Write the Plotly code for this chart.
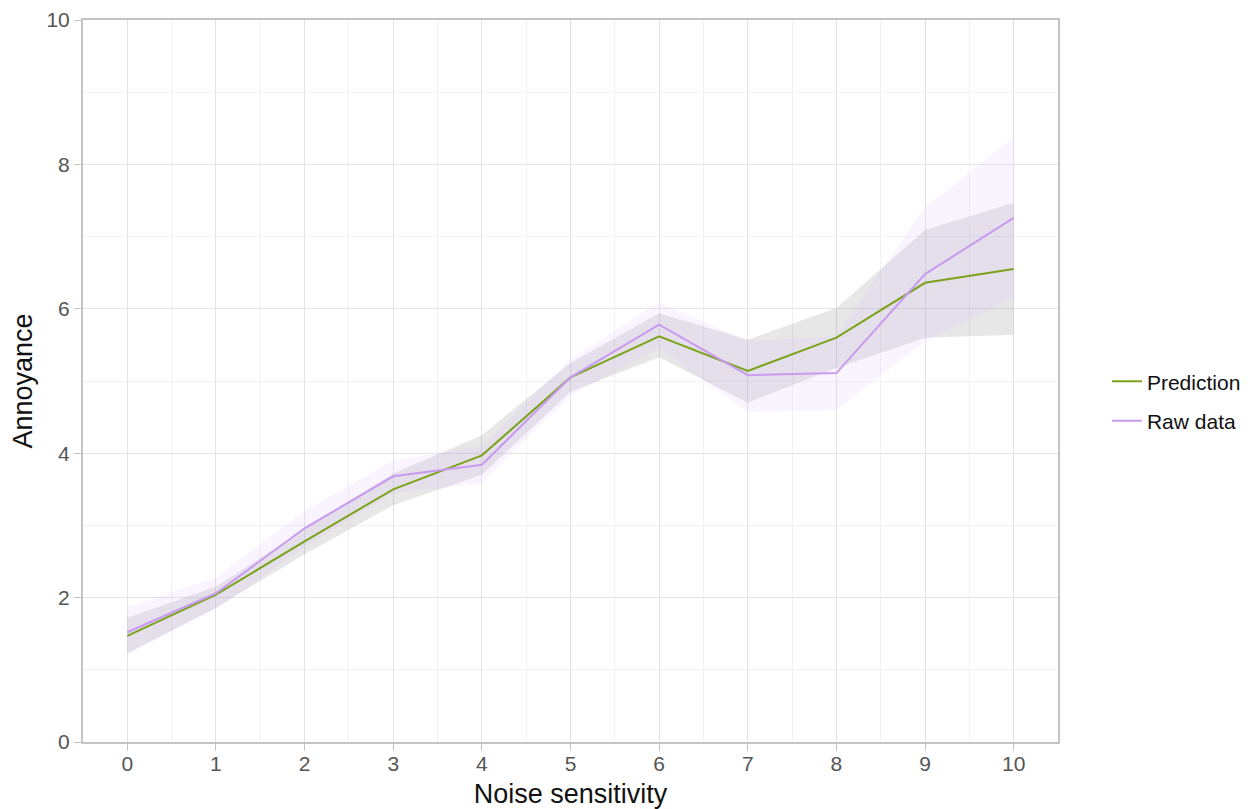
import plotly.graph_objects as go

x_vals = [0, 1, 2, 3, 4, 5, 6, 7, 8, 9, 10]

pred_mean = [1.47, 2.04, 2.78, 3.50, 3.97, 5.05, 5.62, 5.14, 5.60, 6.36, 6.55]
pred_low = [1.23, 1.86, 2.60, 3.28, 3.70, 4.85, 5.33, 4.70, 5.18, 5.60, 5.64]
pred_high = [1.72, 2.15, 2.95, 3.72, 4.25, 5.25, 5.94, 5.57, 6.01, 7.09, 7.47]

raw_mean = [1.52, 2.06, 2.96, 3.68, 3.84, 5.05, 5.78, 5.08, 5.11, 6.48, 7.26]
raw_low = [1.22, 1.84, 2.70, 3.45, 3.58, 4.80, 5.45, 4.57, 4.60, 5.55, 6.15]
raw_high = [1.86, 2.28, 3.20, 3.90, 4.10, 5.30, 6.09, 5.55, 5.62, 7.41, 8.37]

x_ticks = list(range(0, 11))
y_ticks = [0, 2, 4, 6, 8, 10]

GREEN = "#7ba31c"
PURPLE = "#c99af0"
FONT = "Liberation Sans, Arial"

fig = go.Figure()

# Prediction band
fig.add_trace(go.Scatter(x=x_vals, y=pred_high, mode="lines", line=dict(width=0),
                         showlegend=False, hoverinfo="skip"))
fig.add_trace(go.Scatter(x=x_vals, y=pred_low, mode="lines", line=dict(width=0),
                         fill="tonexty", fillcolor="rgba(120,120,120,0.18)",
                         showlegend=False, hoverinfo="skip"))
# Raw band
fig.add_trace(go.Scatter(x=x_vals, y=raw_high, mode="lines", line=dict(width=0),
                         showlegend=False, hoverinfo="skip"))
fig.add_trace(go.Scatter(x=x_vals, y=raw_low, mode="lines", line=dict(width=0),
                         fill="tonexty", fillcolor="rgba(215,180,255,0.15)",
                         showlegend=False, hoverinfo="skip"))

fig.add_trace(go.Scatter(x=x_vals, y=pred_mean, mode="lines", name="Prediction",
                         legendgroup="pred", legendrank=1,
                         line=dict(color=GREEN, width=2)))
fig.add_trace(go.Scatter(x=x_vals, y=raw_mean, mode="lines", name="Raw data",
                         legendgroup="raw", legendrank=2,
                         line=dict(color=PURPLE, width=2)))

axis_common = dict(
    showline=True, linecolor="#c4c4c4", linewidth=2, mirror=True,
    ticks="outside", tickcolor="#c4c4c4", ticklen=7, tickwidth=1,
    showgrid=True, gridcolor="#e3e3e3", gridwidth=1,
    zeroline=False, automargin=False,
    tickfont=dict(family=FONT, size=21, color="#555555"),
)

fig.update_xaxes(range=[-0.5, 10.5], tickvals=x_ticks, ticktext=[str(v) for v in x_ticks],
                 ticklabelstandoff=-5,
                 title=dict(text="Noise sensitivity", font=dict(family=FONT, size=27, color="#111111"), standoff=12),
                 minor=dict(dtick=0.5, showgrid=True, gridcolor="#f2f2f2", gridwidth=1, ticks=""),
                 **axis_common)
fig.update_yaxes(range=[0, 10], tickvals=y_ticks, ticktext=[str(v) for v in y_ticks],
                 title=dict(text="Annoyance", font=dict(family=FONT, size=27, color="#111111"), standoff=12),
                 minor=dict(dtick=1, showgrid=True, gridcolor="#f2f2f2", gridwidth=1, ticks=""),
                 **axis_common)

fig.update_layout(
    width=1251, height=801,
    paper_bgcolor="white", plot_bgcolor="white",
    margin=dict(l=75, r=201, t=12, b=67),
    legend=dict(x=1.0502, y=0.472, yanchor="middle", xanchor="left",
                font=dict(family=FONT, size=21, color="#111111"),
                traceorder="grouped", tracegroupgap=9, itemwidth=30),
    showlegend=True,
)

fig.write_html("out.html")
